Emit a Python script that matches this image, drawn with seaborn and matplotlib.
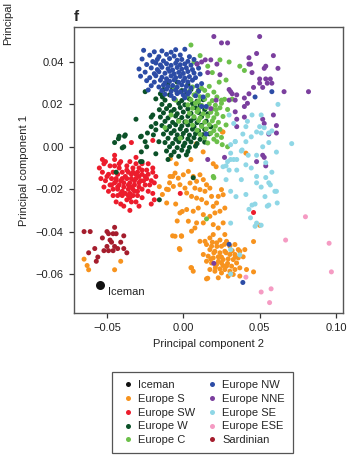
import matplotlib
matplotlib.use("Agg")
import matplotlib.pyplot as plt
from matplotlib.lines import Line2D
import numpy as np
import pandas as pd
import seaborn as sns

# ---------------- data (PC2 = x, PC1 = y) ----------------
iceman_pc2 = [-0.0544]
iceman_pc1 = [-0.0650]

europe_s = [
    (-0.0087, -0.0140), (-0.0054, -0.0124), (-0.0033, -0.0148), (0.0000, -0.0132), (0.0033, -0.0116),
    (0.0065, -0.0140), (0.0087, -0.0163), (0.0109, -0.0132), (0.0131, -0.0155), (0.0152, -0.0179),
    (0.0044, -0.0171), (0.0011, -0.0195), (0.0076, -0.0195), (0.0109, -0.0202), (0.0142, -0.0210),
    (0.0174, -0.0195), (-0.0022, -0.0179), (-0.0065, -0.0187), (-0.0098, -0.0202), (0.0022, -0.0218),
    (0.0054, -0.0234), (0.0087, -0.0242), (0.0120, -0.0249), (0.0152, -0.0265), (0.0196, -0.0281),
    (0.0218, -0.0265), (0.0229, -0.0234), (0.0185, -0.0234), (0.0250, -0.0202), (0.0261, -0.0226),
    (-0.0109, -0.0265), (-0.0022, -0.0312), (0.0022, -0.0296), (0.0065, -0.0304), (0.0098, -0.0289),
    (0.0131, -0.0320), (0.0174, -0.0328), (0.0207, -0.0312), (0.0240, -0.0304), (0.0272, -0.0289),
    (0.0033, -0.0351), (0.0087, -0.0359), (0.0131, -0.0359), (0.0076, -0.0383), (0.0054, -0.0398),
    (0.0196, -0.0367), (0.0229, -0.0383), (0.0261, -0.0359), (0.0272, -0.0414), (-0.0054, -0.0422),
    (-0.0011, -0.0422), (-0.0022, -0.0485), (0.0109, -0.0446), (0.0142, -0.0446), (0.0174, -0.0430),
    (0.0196, -0.0414),
    (0.0152, -0.0461), (0.0185, -0.0469), (0.0218, -0.0453), (0.0250, -0.0469), (0.0283, -0.0446),
    (0.0305, -0.0469), (0.0338, -0.0461), (0.0360, -0.0485), (0.0174, -0.0485), (0.0207, -0.0493),
    (0.0240, -0.0500), (0.0272, -0.0493), (0.0305, -0.0508), (0.0338, -0.0508), (0.0370, -0.0493),
    (0.0403, -0.0485), (0.0131, -0.0508), (0.0163, -0.0516), (0.0196, -0.0524), (0.0229, -0.0519),
    (0.0261, -0.0532), (0.0294, -0.0529), (0.0327, -0.0532), (0.0360, -0.0524), (0.0392, -0.0519),
    (0.0152, -0.0540), (0.0185, -0.0548), (0.0218, -0.0555), (0.0250, -0.0548), (0.0283, -0.0563),
    (0.0316, -0.0563), (0.0349, -0.0548), (0.0174, -0.0579), (0.0207, -0.0587), (0.0240, -0.0576),
    (0.0272, -0.0579), (0.0305, -0.0587), (0.0338, -0.0579), (0.0370, -0.0571), (0.0414, -0.0579),
    (0.0054, -0.0571), (0.0065, -0.0587), (0.0152, -0.0623), (0.0250, -0.0595), (0.0294, -0.0610),
    (0.0327, -0.0602), (0.0229, -0.0618), (0.0370, -0.0610),
    (0.022, -0.047), (0.027, -0.046), (0.025, -0.052), (0.020, -0.050), (0.023, -0.054),
    (0.028, -0.050), (0.018, -0.053), (0.032, -0.049), (0.029, -0.055), (0.026, -0.056),
    (0.021, -0.057), (0.034, -0.052), (0.024, -0.044), (0.019, -0.045),
    (0.026, 0.007), (0.013, -0.0024), (0.0085, 0.0014), (0.005, -0.006), (-0.0046, -0.008),
    (-0.0085, -0.0056), (0.0196, -0.008), (0.0215, -0.0094), (0.041, -0.003), (-0.007, -0.014),
    (-0.011, -0.020), (-0.009, -0.017), (-0.0137, -0.0225), (-0.0157, -0.0188), (-0.004, -0.035),
    (-0.007, -0.042), (-0.0026, -0.048), (-0.0013, -0.042), (0.005, -0.057), (0.016, -0.062),
    (0.050, -0.037), (-0.005, -0.027), (-0.0007, -0.0305), (-0.065, -0.053), (-0.063, -0.056),
    (-0.062, -0.058), (-0.045, -0.058), (-0.041, -0.054), (0.046, -0.0447), (0.046, -0.059),
    (0.0255, 0.0070),
]

europe_sw = [
    (-0.052, -0.008), (-0.055, -0.010), (-0.048, -0.009), (-0.045, -0.006), (-0.051, -0.007),
    (-0.041, -0.007), (-0.035, -0.007), (-0.031, -0.008), (-0.027, -0.008), (-0.023, -0.008),
    (-0.042, -0.010), (-0.037, -0.009), (-0.033, -0.010), (-0.029, -0.010), (-0.024, -0.011),
    (-0.020, -0.010), (-0.053, -0.012), (-0.049, -0.013), (-0.046, -0.012), (-0.043, -0.013),
    (-0.040, -0.012), (-0.036, -0.012), (-0.033, -0.012), (-0.030, -0.012), (-0.027, -0.013),
    (-0.023, -0.013), (-0.020, -0.012), (-0.018, -0.014), (-0.054, -0.015), (-0.051, -0.016),
    (-0.047, -0.015), (-0.044, -0.015), (-0.041, -0.016), (-0.037, -0.015), (-0.034, -0.015),
    (-0.031, -0.015), (-0.028, -0.016), (-0.024, -0.015), (-0.021, -0.016), (-0.052, -0.019),
    (-0.048, -0.018), (-0.045, -0.017), (-0.042, -0.018), (-0.039, -0.017), (-0.035, -0.017),
    (-0.032, -0.018), (-0.029, -0.017), (-0.025, -0.018), (-0.022, -0.018), (-0.019, -0.017),
    (-0.049, -0.021), (-0.046, -0.020), (-0.043, -0.020), (-0.040, -0.021), (-0.036, -0.020),
    (-0.033, -0.020), (-0.030, -0.021), (-0.027, -0.020), (-0.023, -0.021), (-0.020, -0.022),
    (-0.046, -0.023), (-0.043, -0.023), (-0.040, -0.023), (-0.036, -0.023), (-0.033, -0.023),
    (-0.030, -0.023), (-0.027, -0.024), (-0.044, -0.026), (-0.041, -0.027), (-0.037, -0.025),
    (-0.034, -0.026), (-0.031, -0.026), (-0.039, -0.028), (-0.035, -0.030), (-0.029, -0.028),
    (-0.021, -0.027), (-0.019, -0.025), (-0.045, -0.009), (-0.034, -0.013), (-0.032, -0.016),
    (-0.039, -0.019), (-0.041, -0.022), (-0.044, -0.016), (-0.029, -0.019), (-0.035, -0.022),
    (-0.027, -0.011), (-0.042, -0.008), (-0.038, -0.014), (-0.036, -0.018), (-0.031, -0.013),
    (-0.029, -0.014), (-0.034, -0.019), (-0.040, -0.015), (-0.026, -0.016), (-0.032, -0.021),
    (-0.037, -0.011), (-0.043, -0.019), (-0.047, -0.018), (-0.050, -0.014), (-0.025, -0.014),
    (-0.035, -0.024), (-0.038, -0.022), (-0.034, 0.002), (-0.020, 0.003), (-0.045, -0.004),
    (-0.031, -0.005), (-0.053, -0.006), (0.046, -0.031), (-0.002, -0.022),
]

europe_w = [
    (-0.010, 0.0300), (-0.004, 0.0305), (0.003, 0.0295),
    (-0.013, 0.0270), (-0.007, 0.0275), (-0.001, 0.0265), (0.005, 0.0270), (0.010, 0.0265),
    (-0.015, 0.0250), (-0.009, 0.0245), (-0.004, 0.0255), (0.002, 0.0248), (0.008, 0.0242),
    (-0.012, 0.0220), (-0.006, 0.0225), (-0.001, 0.0218), (0.004, 0.0226), (0.009, 0.0215), (0.013, 0.0222),
    (-0.014, 0.0200), (-0.009, 0.0195), (-0.003, 0.0205), (0.001, 0.0198), (0.006, 0.0204), (0.011, 0.0196),
    (-0.011, 0.0180), (-0.006, 0.0176), (-0.002, 0.0185), (0.003, 0.0178), (0.008, 0.0184), (0.014, 0.0175),
    (-0.013, 0.0160), (-0.008, 0.0165), (-0.004, 0.0156), (0.000, 0.0164), (0.005, 0.0158), (0.010, 0.0162),
    (0.016, 0.0155), (-0.015, 0.0140), (-0.010, 0.0136), (-0.005, 0.0145), (-0.001, 0.0138), (0.003, 0.0144),
    (0.007, 0.0135), (0.012, 0.0142), (-0.012, 0.0120), (-0.007, 0.0115), (-0.003, 0.0124), (0.001, 0.0117),
    (0.005, 0.0122), (0.009, 0.0114), (0.015, 0.0121), (-0.014, 0.0100), (-0.009, 0.0096), (-0.005, 0.0104),
    (-0.001, 0.0098), (0.003, 0.0103), (0.007, 0.0095), (0.012, 0.0101), (0.018, 0.0094),
    (-0.011, 0.0080), (-0.006, 0.0076), (-0.002, 0.0084), (0.002, 0.0077), (0.006, 0.0083), (0.010, 0.0075),
    (0.014, 0.0082), (-0.013, 0.0060), (-0.008, 0.0064), (-0.004, 0.0056), (0.000, 0.0063), (0.004, 0.0055),
    (0.008, 0.0062), (0.013, 0.0057), (0.017, 0.0061), (-0.010, 0.0040), (-0.005, 0.0036), (-0.001, 0.0044),
    (0.003, 0.0037), (0.007, 0.0043), (0.011, 0.0035), (-0.012, 0.0020), (-0.007, 0.0016), (-0.003, 0.0024),
    (0.001, 0.0017), (0.005, 0.0023), (0.009, 0.0015), (0.014, 0.0022), (-0.009, 0.0000), (-0.004, -0.0004),
    (0.000, 0.0004), (0.004, -0.0003), (0.008, 0.0003), (-0.011, -0.0020), (-0.006, -0.0024), (-0.001, -0.0016),
    (0.003, -0.0022), (-0.008, -0.0040), (-0.003, -0.0045), (0.002, -0.0038), (-0.010, -0.0060),
    (-0.025, 0.0260), (-0.031, 0.0130), (-0.042, 0.0050), (-0.0385, 0.0050), (-0.045, 0.0020),
    (-0.040, -0.0005), (-0.0275, 0.0050), (-0.0235, 0.0065), (-0.021, 0.0095), (-0.018, 0.0080),
    (-0.020, 0.0150), (-0.0157, 0.0175), (-0.0137, 0.0235), (-0.018, 0.0226), (-0.021, 0.0140),
    (-0.018, 0.0110), (-0.038, 0.0056), (-0.0425, 0.0038), (-0.039, 0.0000), (-0.028, 0.0047),
    (-0.025, 0.0024), (-0.024, 0.0000), (-0.0275, -0.0024), (-0.0196, 0.0056), (-0.016, 0.0024),
    (-0.018, -0.0033), (-0.028, -0.0070), (-0.044, -0.0120), (-0.027, -0.0070), (-0.0157, -0.0250),
    (0.0065, -0.0146),
]

europe_c = [
    (0.005, 0.048), (0.030, 0.040), (0.037, 0.038), (0.040, 0.036), (0.019, 0.035), (0.007, 0.040),
    (0.028, 0.0315), (0.0235, 0.0305), (0.025, 0.022), (0.032, 0.0225), (0.0215, 0.0175), (0.0255, 0.001),
    (0.029, 0.000), (0.011, 0.043), (0.016, 0.038), (0.024, 0.041),
    (0.006, 0.0282), (0.012, 0.0276), (0.017, 0.0285),
    (0.004, 0.0262), (0.009, 0.0255), (0.014, 0.0266), (0.020, 0.0258),
    (0.002, 0.0238), (0.007, 0.0245), (0.011, 0.0236), (0.016, 0.0243), (0.022, 0.0235),
    (0.005, 0.0222), (0.010, 0.0215), (0.014, 0.0225), (0.019, 0.0218), (0.027, 0.0224),
    (0.003, 0.0198), (0.008, 0.0205), (0.012, 0.0195), (0.017, 0.0202), (0.021, 0.0196), (0.025, 0.0205),
    (0.006, 0.0182), (0.010, 0.0176), (0.015, 0.0185), (0.019, 0.0178), (0.024, 0.0184), (0.029, 0.0176),
    (0.004, 0.0158), (0.009, 0.0165), (0.013, 0.0156), (0.018, 0.0163), (0.022, 0.0155),
    (0.007, 0.0142), (0.011, 0.0136), (0.016, 0.0144), (0.020, 0.0137), (0.026, 0.0143),
    (0.002, 0.0118), (0.010, 0.0124), (0.014, 0.0116), (0.019, 0.0122), (0.023, 0.0115),
    (0.006, 0.0102), (0.012, 0.0096), (0.017, 0.0104), (0.021, 0.0097), (0.028, 0.0103),
    (0.009, 0.0078), (0.015, 0.0084), (0.020, 0.0076), (0.024, 0.0082),
    (0.011, 0.0058), (0.018, 0.0064), (0.022, 0.0055),
    (0.014, 0.0042), (0.020, 0.0036), (0.025, 0.0044),
    (0.016, 0.0018), (0.022, 0.0024),
    (-0.008, 0.015), (-0.005, 0.022), (-0.012, 0.009), (-0.002, 0.004), (-0.006, 0.028), (-0.003, 0.012),
    (0.0152, -0.034), (0.0196, -0.014), (0.020, -0.0146),
]

europe_nw = [
    (-0.026, 0.0455), (-0.019, 0.0448), (-0.014, 0.0452), (-0.008, 0.0446), (-0.005, 0.0458), (0.001, 0.0460),
    (-0.022, 0.0432), (-0.016, 0.0425), (-0.011, 0.0436), (-0.006, 0.0428), (-0.002, 0.0433), (0.004, 0.0425),
    (-0.027, 0.0414), (-0.020, 0.0402), (-0.017, 0.0412), (-0.013, 0.0405), (-0.009, 0.0416), (-0.004, 0.0408),
    (-0.001, 0.0412), (0.003, 0.0403), (0.007, 0.0412),
    (-0.024, 0.0388), (-0.018, 0.0395), (-0.015, 0.0386), (-0.011, 0.0392), (-0.008, 0.0384), (-0.005, 0.0394),
    (-0.002, 0.0387), (0.001, 0.0391), (0.005, 0.0385), (0.009, 0.0392),
    (-0.029, 0.0367), (-0.021, 0.0372), (-0.017, 0.0364), (-0.014, 0.0375), (-0.010, 0.0368), (-0.007, 0.0362),
    (-0.004, 0.0374), (-0.001, 0.0366), (0.002, 0.0372), (0.006, 0.0364), (0.010, 0.0371),
    (-0.025, 0.0352), (-0.019, 0.0345), (-0.016, 0.0354), (-0.012, 0.0347), (-0.009, 0.0356), (-0.006, 0.0344),
    (-0.003, 0.0351), (0.000, 0.0346), (0.003, 0.0355), (0.007, 0.0348), (0.011, 0.0343),
    (-0.028, 0.0333), (-0.022, 0.0326), (-0.018, 0.0335), (-0.014, 0.0328), (-0.011, 0.0321), (-0.008, 0.0334),
    (-0.005, 0.0326), (-0.002, 0.0332), (0.001, 0.0324), (0.004, 0.0331), (0.008, 0.0326),
    (-0.024, 0.0312), (-0.019, 0.0305), (-0.015, 0.0314), (-0.012, 0.0302), (-0.009, 0.0309), (-0.006, 0.0315),
    (-0.003, 0.0304), (0.000, 0.0311), (0.003, 0.0306), (0.006, 0.0314), (0.012, 0.0298),
    (-0.021, 0.0288), (-0.016, 0.0282), (-0.013, 0.0291), (-0.010, 0.0284), (-0.007, 0.0289), (-0.004, 0.0281),
    (-0.001, 0.0292), (0.002, 0.0285), (0.005, 0.0278), (0.009, 0.0287),
    (-0.023, 0.0268), (-0.014, 0.0265), (-0.011, 0.0272), (-0.008, 0.0262), (-0.005, 0.0268), (-0.002, 0.0259),
    (0.001, 0.0266), (0.004, 0.0258), (0.010, 0.0262),
    (-0.012, 0.0248), (-0.008, 0.0242), (-0.004, 0.0251), (0.000, 0.0244), (0.003, 0.0249), (0.008, 0.0241),
    (-0.006, 0.0228), (0.001, 0.0231), (0.013, 0.0235), (0.015, 0.0190), (0.012, 0.0190), (0.015, 0.0060),
    (0.047, 0.0235), (0.058, 0.0260), (0.030, -0.0460), (0.039, -0.0640),
]

europe_nne = [
    (0.020, 0.052), (0.025, 0.049), (0.029, 0.049), (0.050, 0.052), (0.048, 0.044), (0.043, 0.042),
    (0.059, 0.043), (0.043, 0.039), (0.053, 0.037), (0.054, 0.038), (0.062, 0.037), (0.045, 0.035),
    (0.050, 0.032), (0.054, 0.032), (0.057, 0.032), (0.055, 0.030), (0.050, 0.030), (0.046, 0.028),
    (0.052, 0.028), (0.058, 0.030), (0.066, 0.026), (0.082, 0.026), (0.018, 0.041), (0.022, 0.039),
    (0.012, 0.040), (0.009, 0.039), (0.016, 0.035), (0.024, 0.034), (0.030, 0.027), (0.032, 0.025),
    (0.035, 0.0245), (0.040, 0.023), (0.043, 0.025), (0.042, 0.0205), (0.040, 0.019), (0.034, 0.022),
    (0.030, 0.022), (0.034, 0.0165), (0.040, 0.014), (0.035, 0.013), (0.052, 0.013), (0.059, 0.015),
    (0.053, 0.011), (0.061, 0.010), (0.035, 0.0095), (0.056, 0.006), (0.061, 0.0065), (0.027, -0.005),
    (0.052, -0.004), (0.048, -0.007), (0.054, -0.009), (0.053, -0.005), (0.016, -0.006), (0.020, -0.055),
    (0.0215, 0.022), (0.018, 0.018), (0.0144, 0.041), (0.044, 0.039), (0.031, 0.026),
]

europe_se = [
    (0.062, 0.020), (0.051, 0.015), (0.045, 0.015), (0.042, 0.012), (0.033, 0.011), (0.050, 0.0095),
    (0.053, 0.009), (0.048, 0.007), (0.051, 0.0065), (0.056, 0.0065), (0.058, 0.0075), (0.071, 0.0015),
    (0.031, 0.001), (0.034, 0.0025), (0.0385, -0.0015), (0.048, -0.004), (0.052, 0.000), (0.056, 0.002),
    (0.061, -0.0025), (0.041, 0.0095), (0.030, 0.015),
    (0.031, -0.003), (0.038, -0.002), (0.033, -0.006), (0.029, -0.007), (0.028, -0.009), (0.035, -0.006),
    (0.041, -0.0085), (0.0445, -0.010), (0.038, -0.0155), (0.048, -0.017), (0.051, -0.019), (0.054, -0.0145),
    (0.058, -0.012), (0.061, -0.021), (0.0615, -0.0265), (0.055, -0.028), (0.056, -0.0275), (0.045, -0.0275),
    (0.043, -0.0295), (0.0345, -0.0235), (0.031, -0.021), (0.041, -0.0225), (0.051, -0.037), (0.048, -0.036),
    (0.047, -0.0375), (0.044, -0.0335), (0.048, -0.014), (0.056, -0.017), (0.035, -0.011), (0.030, -0.011),
    (0.054, -0.0075), (0.031, -0.036), (0.037, -0.051), (0.031, -0.060), (0.031, -0.0485), (0.028, -0.0155),
    (0.057, -0.018), (0.060, -0.021), (0.0535, -0.0235), (0.047, -0.027), (0.039, 0.006), (0.041, 0.0024),
    (0.0445, 0.0047), (0.031, -0.006), (0.0425, -0.004), (0.026, -0.0094), (0.034, 0.0024),
]

europe_ese = [
    (0.080, -0.033), (0.067, -0.044), (0.0955, -0.0455), (0.097, -0.059), (0.0575, -0.067),
    (0.051, -0.0685), (0.0565, -0.0735), (0.041, -0.0615),
]

sardinian = [
    (-0.065, -0.040), (-0.061, -0.040), (-0.050, -0.040), (-0.045, -0.038), (-0.049, -0.041),
    (-0.046, -0.041), (-0.044, -0.041), (-0.053, -0.043), (-0.048, -0.044), (-0.039, -0.042),
    (-0.041, -0.045), (-0.047, -0.045), (-0.050, -0.047), (-0.045, -0.047), (-0.043, -0.048),
    (-0.039, -0.048), (-0.058, -0.048), (-0.052, -0.049), (-0.049, -0.049), (-0.037, -0.050),
    (-0.062, -0.050), (-0.056, -0.052), (-0.057, -0.054), (-0.046, -0.049),
]

groups = ["Iceman", "Europe S", "Europe SW", "Europe W", "Europe C",
          "Europe NW", "Europe NNE", "Europe SE", "Europe ESE", "Sardinian"]
colors = ["#111111", "#F7931E", "#EC1C2C", "#0B5128", "#6CC04A",
          "#2C4CA6", "#7B3F9E", "#8FD7E6", "#F59BC3", "#A51D2D"]

x_ticks = [-0.05, 0.00, 0.05, 0.10]
x_tick_labels = ["\u22120.05", "0.00", "0.05", "0.10"]
y_ticks = [-0.06, -0.04, -0.02, 0.00, 0.02, 0.04]
y_tick_labels = ["\u22120.06", "\u22120.04", "\u22120.02", "0.00", "0.02", "0.04"]

# ---------------- build table (draw order: S, SW, W, C, NW, NNE, SE, ESE, Sardinian) ----------------
draw_order = [("Europe S", europe_s), ("Europe SW", europe_sw), ("Europe W", europe_w),
              ("Europe C", europe_c), ("Europe NW", europe_nw), ("Europe NNE", europe_nne),
              ("Europe SE", europe_se), ("Europe ESE", europe_ese), ("Sardinian", sardinian)]
rows = []
for name, pts in draw_order:
    for px, py in pts:
        rows.append({"group": name, "pc2": px, "pc1": py})
df = pd.DataFrame(rows)
ice = pd.DataFrame({"group": ["Iceman"], "pc2": iceman_pc2, "pc1": iceman_pc1})
palette = dict(zip(groups, colors))

# ---------------- figure ----------------
sns.set_theme(style="ticks")
plt.rcParams["font.family"] = ["Liberation Sans", "DejaVu Sans"]
plt.rcParams["axes.unicode_minus"] = True

fig = plt.figure(figsize=(3.58, 4.62), dpi=100)
ax = fig.add_axes([74 / 358, 1 - 313 / 462, (343 - 74) / 358, (313 - 27) / 462])

sns.scatterplot(data=df, x="pc2", y="pc1", hue="group", palette=palette,
                s=13, linewidth=0, legend=False, ax=ax, zorder=2)
sns.scatterplot(data=ice, x="pc2", y="pc1", color=palette["Iceman"],
                s=42, linewidth=0, legend=False, ax=ax, zorder=3)
ax.text(-0.0495, -0.0685, "Iceman", fontsize=8, va="center", ha="left", color="#222222")

ax.set_xlim(-0.0716, 0.1046)
ax.set_ylim(-0.0784, 0.0565)
ax.set_xticks(x_ticks)
ax.set_xticklabels(x_tick_labels)
ax.set_yticks(y_ticks)
ax.set_yticklabels(y_tick_labels)
ax.tick_params(axis="both", direction="out", length=3.5, width=0.9, pad=4,
               labelsize=8, colors="#333333", labelcolor="#222222")
for sp in ax.spines.values():
    sp.set_visible(True)
    sp.set_color("#555555")
    sp.set_linewidth(1.0)
ax.set_xlabel("Principal component 2", fontsize=8, labelpad=4, color="#222222")
ax.set_ylabel("Principal component 1", fontsize=8, labelpad=5, color="#222222")

fig.text(74 / 358, 1 - 21 / 462, "f", fontsize=11, fontweight="bold", ha="left", va="baseline")
fig.text(8 / 358, 1 - 45 / 462, "Principal", fontsize=8, rotation=90,
         ha="center", va="bottom", color="#222222")

handles = [Line2D([], [], marker="o", ls="", color=palette[g], markersize=3.6, markeredgewidth=0)
           for g in groups]
leg = fig.legend(handles, groups, ncol=2, loc="upper left",
                 bbox_to_anchor=(112 / 358, 1 - 372 / 462), borderaxespad=0,
                 fontsize=8, frameon=True, fancybox=False, edgecolor="#555555",
                 framealpha=1, borderpad=0.7, handlelength=1.4, handletextpad=0.2,
                 columnspacing=0.9, labelspacing=0.35)
leg.get_frame().set_linewidth(0.9)
# widen the frame to the reference's right padding
fig.canvas.draw()
fr = leg.get_frame()
fr.set_width(fr.get_width() + 10)

fig.savefig("out.png", dpi=100)
